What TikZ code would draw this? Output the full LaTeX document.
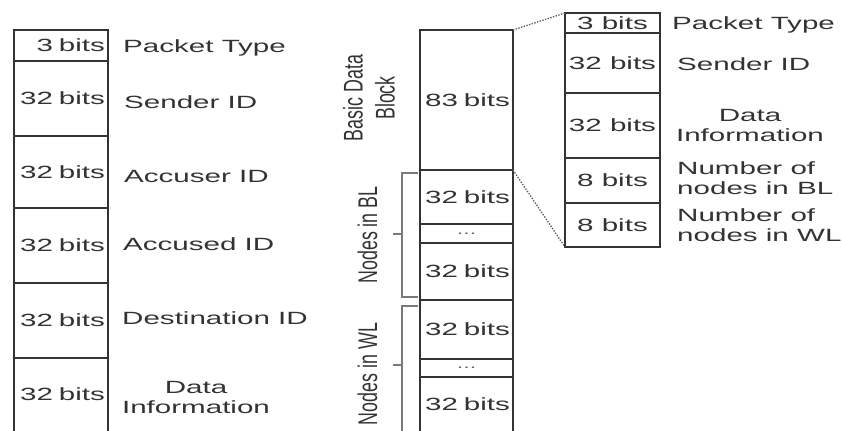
\documentclass[tikz,border=0pt]{standalone}
\usepackage{fontspec}
\setmainfont{Liberation Sans}
\newfontfamily\hfont[FakeStretch=1.67]{Liberation Sans}
\newfontfamily\vfont[FakeStretch=0.66]{Liberation Sans}
\definecolor{ink}{HTML}{333333}
\definecolor{brkcol}{HTML}{7A7A7A}
\begin{document}
\begin{tikzpicture}[x=1bp,y=-1bp,
  hf/.style={font=\hfont\fontsize{17.7bp}{20bp}\selectfont},
  cell/.style={draw=ink, line width=1.6bp, inner xsep=3bp, inner ysep=0pt,
    outer sep=0pt, anchor=north west, text=ink, hf},
  lcell/.style={cell, text width=88bp, align=right},
  mcell/.style={cell, text width=87bp, align=right},
  rcell/.style={cell, minimum width=95bp, align=center},
  dotcell/.style={cell, text width=87bp, align=center, text=black!60,
    font=\hfont\fontsize{14bp}{14bp}\selectfont},
  frame/.style={draw=ink, line width=1.6bp},
  lab/.style={inner sep=0pt, text=ink, hf},
  vlab/.style={rotate=90, inner sep=0pt, text=ink,
    font=\vfont\fontsize{27bp}{32bp}\selectfont},
  brk/.style={draw=brkcol, line width=1.3bp},
  dotline/.style={draw=ink!80, line width=1.3bp, dash pattern=on 1.4bp off 1.4bp}
]
\useasboundingbox (0,0) rectangle (842,430);

% ---------- left column ----------
\node[lcell, minimum height=31bp] (p1) at (14,30) {3 bits};
\node[lcell, minimum height=75bp] (p2) at (p1.south west) {32 bits};
\node[lcell, minimum height=72bp] (p3) at (p2.south west) {32 bits};
\node[lcell, minimum height=75bp] (p4) at (p3.south west) {32 bits};
\node[lcell, minimum height=75bp] (p5) at (p4.south west) {32 bits};
\node[lcell, draw=none, minimum height=73bp] (p6) at (p5.south west) {32 bits};
\draw[frame] (p6.south west) -- (p6.north west) -- (p6.north east) -- (p6.south east);

\node[lab, anchor=base west] (t1) at (123,52) {Packet Type};
\node[lab, anchor=base west] (t2) at (124,108) {Sender ID};
\node[lab, anchor=base west] (t3) at (124,182) {Accuser ID};
\node[lab, anchor=base west] (t4) at (123,250) {Accused ID};
\node[lab, anchor=base west] (t5) at (122,324) {Destination ID};
\node[lab, align=center] (t6) at (196,397) {Data\\Information};

% ---------- middle column ----------
\node[mcell, minimum height=140bp] (m1) at (420,30) {83 bits};
\node[mcell, minimum height=54bp] (m2) at (m1.south west) {32 bits};
\node[dotcell, minimum height=19bp] (m3) at (m2.south west) {...};
\node[mcell, minimum height=57bp] (m4) at (m3.south west) {32 bits};
\node[mcell, minimum height=59bp] (m5) at (m4.south west) {32 bits};
\node[dotcell, minimum height=18bp] (m6) at (m5.south west) {...};
\node[mcell, draw=none, minimum height=54bp] (m7) at (m6.south west) {32 bits};
\draw[frame] (m7.south west) -- (m7.north west) -- (m7.north east) -- (m7.south east);

% brackets
\draw[brk] (418,173) -- (402,173) -- (402,297) -- (418,297);
\draw[brk] (393,234) -- (402,234);
\draw[brk] (418,306) -- (402,306) -- (402,431);
\draw[brk] (393,365) -- (402,365);

\node[vlab, align=center] (bdb) at (369,98) {Basic Data\\Block};
\node[vlab, anchor=base] (nbl) at (377,235) {Nodes in BL};
\node[vlab, anchor=base] (nwl) at (377,374) {Nodes in WL};

% ---------- right column ----------
\node[rcell, minimum height=20bp] (r1) at (565,13) {3 bits};
\node[rcell, minimum height=60bp] (r2) at (r1.south west) {32 bits};
\node[rcell, minimum height=65bp] (r3) at (r2.south west) {32 bits};
\node[rcell, minimum height=45bp] (r4) at (r3.south west) {8 bits};
\node[rcell, minimum height=44bp] (r5) at (r4.south west) {8 bits};

\node[lab, anchor=base west] (s1) at (672,29) {Packet Type};
\node[lab, anchor=base west] (s2) at (677,70) {Sender ID};
\node[lab, align=center] (s3) at (750,125) {Data\\Information};
\node[lab, align=left, anchor=west] (s4) at (677,178) {Number of\\nodes in BL};
\node[lab, align=left, anchor=west] (s5) at (677,225) {Number of\\nodes in WL};

% zoom lines
\draw[dotline] (m1.north east) -- (r1.north west);
\draw[dotline] (m1.south east) -- (r5.south west);
\end{tikzpicture}
\end{document}
